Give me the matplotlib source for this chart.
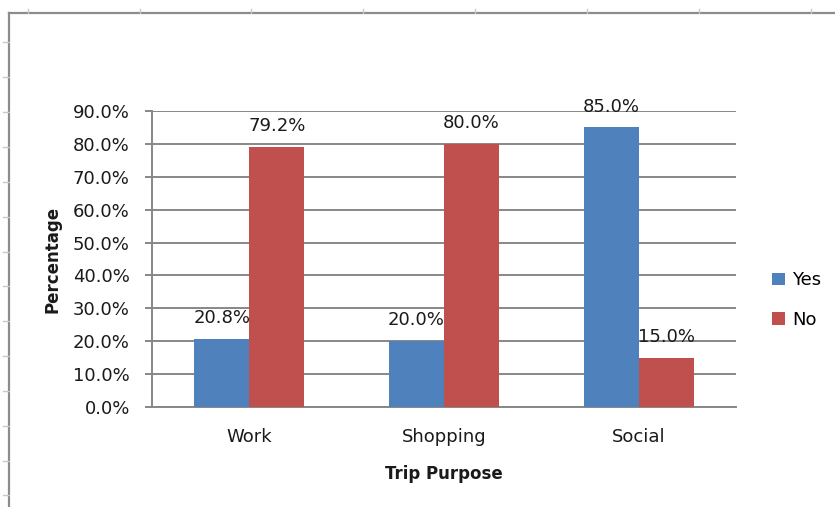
import matplotlib
matplotlib.use("Agg")
import matplotlib.pyplot as plt
from matplotlib.lines import Line2D
import numpy as np

categories = ["Work", "Shopping", "Social"]
yes_values = [20.8, 20.0, 85.0]
no_values = [79.2, 80.0, 15.0]
y_ticks = [0, 10, 20, 30, 40, 50, 60, 70, 80, 90]

W, H = 835, 507
fig = plt.figure(figsize=(W / 100, H / 100), dpi=100)
fig.patch.set_facecolor("white")

plt.rcParams["font.family"] = ["DejaVu Sans"]

# worksheet frame around the chart object
def fx(px):
    return px / W

def fy(py):
    return 1 - py / H

frame_col = "#8c8c8c"
fig.add_artist(Line2D([fx(9), fx(9)], [fy(13), fy(H)], color=frame_col, lw=1.6,
                      transform=fig.transFigure))
fig.add_artist(Line2D([fx(9), fx(W)], [fy(13), fy(13)], color=frame_col, lw=1.6,
                      transform=fig.transFigure))
for px in [28, 140, 251, 363, 475, 587, 699, 811]:
    fig.add_artist(Line2D([fx(px), fx(px)], [fy(9), fy(13)], color="#c8c8c8", lw=1,
                          transform=fig.transFigure))
for py in [42, 77, 112, 147, 182, 217, 252, 286, 321, 356, 391, 426, 461, 495]:
    fig.add_artist(Line2D([fx(3), fx(9)], [fy(py), fy(py)], color="#c8c8c8", lw=1,
                          transform=fig.transFigure))

ax = fig.add_axes([fx(152), fy(407), fx(736) - fx(152), fy(111) - fy(407)])

x = np.arange(len(categories))
bw = 0.283
blue = "#4F81BD"
red = "#C0504D"
b1 = ax.bar(x - bw / 2, yes_values, bw, color=blue, label="Yes", zorder=3)
b2 = ax.bar(x + bw / 2, no_values, bw, color=red, label="No", zorder=3)

lab_fs = 13
for bars in (b1, b2):
    ax.bar_label(bars, labels=[f"{v:.1f}%" for v in bars.datavalues],
                 padding=8.5, fontsize=lab_fs, color="#1a1a1a", zorder=4)

ax.set_xlim(-0.5, 2.5)
ax.set_ylim(0, 90)
ax.set_yticks(y_ticks)
ax.set_yticklabels([f"{v:.1f}%" for v in y_ticks], fontsize=lab_fs, color="#1a1a1a")
ax.set_xticks(x)
ax.set_xticklabels(categories, fontsize=lab_fs, color="#1a1a1a")

grid_col = "#878787"
ax.yaxis.grid(True, color=grid_col, lw=1.4, zorder=0)
ax.set_axisbelow(True)
for s in ("top", "right"):
    ax.spines[s].set_visible(False)
for s in ("left", "bottom"):
    ax.spines[s].set_color(grid_col)
    ax.spines[s].set_linewidth(1.4)
ax.tick_params(axis="y", direction="out", length=5, width=1.4, color=grid_col, pad=11)
ax.tick_params(axis="x", length=0, pad=15)

ax.set_xlabel("Trip Purpose", fontsize=12, fontweight="bold", color="#1a1a1a", labelpad=14)
ax.set_ylabel("Percentage", fontsize=12, fontweight="bold", color="#1a1a1a", labelpad=8)

leg = ax.legend(loc="center left", bbox_to_anchor=(fx(765), fy(300)),
                bbox_transform=fig.transFigure, frameon=False, fontsize=lab_fs,
                handlelength=0.7, handleheight=0.7, handletextpad=0.4,
                labelspacing=1.2, borderaxespad=0)

fig.savefig("out.png", dpi=100, facecolor="white")
